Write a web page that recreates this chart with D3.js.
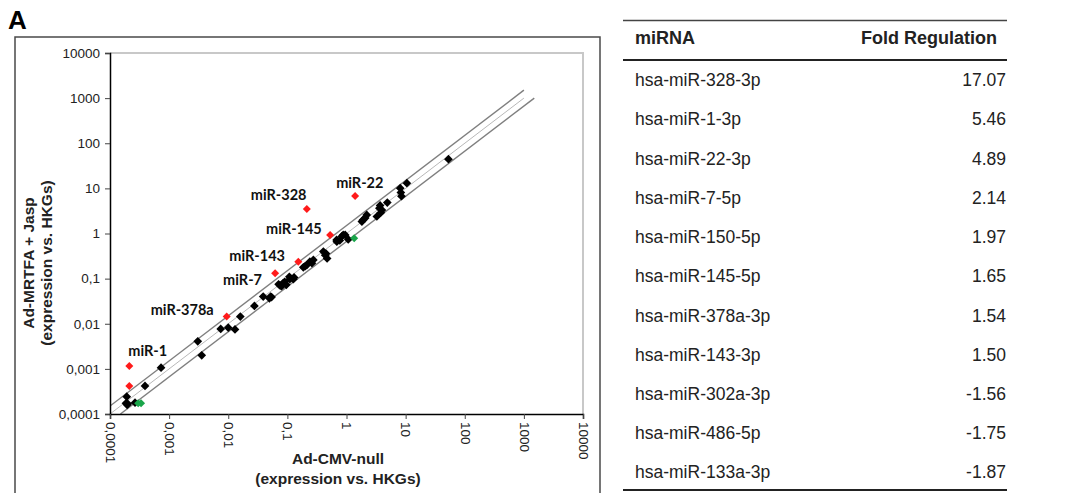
<!DOCTYPE html>
<html><head><meta charset="utf-8">
<script src="https://cdn.jsdelivr.net/npm/d3@7"></script>
<style>
html,body{margin:0;padding:0;background:#fff;}
svg{display:block;}
</style></head>
<body>
<svg id="chart" width="1076" height="493"></svg>
<script>
// ---- data ----
const tickValues = [1e-4, 1e-3, 1e-2, 1e-1, 1, 10, 100, 1000, 10000];
const tickLabels = ["0,0001", "0,001", "0,01", "0,1", "1", "10", "100", "1000", "10000"];

// black (unchanged) miRNAs: [Ad-CMV-null, Ad-MRTFA + Jasp]
const blackX = [1.92e-4,1.86e-4,2.0e-4,1.95e-4,2.65e-4,3.91e-4,7.3e-4,3.05e-3,3.56e-3,7.46e-3,0.010,0.013,0.016,0.0277,
  0.039,0.0497,0.052,0.054,0.0755,0.085,0.096,0.11,0.108,0.126,0.13,0.071,0.08,0.09,
  0.186,0.213,0.24,0.275,0.2,0.26,0.406,0.47,0.437,0.45,0.686,0.68,0.83,0.88,0.95,1.07,0.77,
  1.82,2.07,2.2,1.9,3.26,3.6,3.7,3.97,3.8,4.9,8.3,8.1,8.5,10.5,53];
const blackY = [2.42e-4,1.73e-4,1.68e-4,1.6e-4,1.78e-4,4.18e-4,1.06e-3,4.09e-3,2.0e-3,7.67e-3,8.2e-3,7.5e-3,0.0144,0.0248,
  0.040,0.0367,0.040,0.039,0.070,0.080,0.073,0.097,0.11,0.097,0.106,0.075,0.068,0.085,
  0.178,0.20,0.238,0.26,0.19,0.22,0.397,0.28,0.33,0.36,0.66,0.72,0.86,0.93,0.93,0.74,0.70,
  1.84,2.2,2.58,2.0,2.38,3.64,4.2,3.3,2.9,4.85,8.1,10.1,6.7,13,44.4];

// up-regulated (red)
const redNames = ["miR-1", "miR-150", "miR-378a", "miR-7", "miR-143", "miR-145", "miR-328", "miR-22"];
const redX = [2.12e-4, 2.12e-4, 9.4e-3, 0.062, 0.153, 0.528, 0.213, 1.4];
const redY = [1.16e-3, 4.2e-4, 0.0144, 0.132, 0.238, 0.93, 3.51, 6.82];

// down-regulated (green)
const greenX = [3.0e-4, 3.35e-4, 1.35];
const greenY = [1.73e-4, 1.73e-4, 0.787];

// annotation labels
const labelNames = ["miR-1", "miR-378a", "miR-7", "miR-143", "miR-145", "miR-328", "miR-22"];

// table
const tableMiRNA = ["hsa-miR-328-3p","hsa-miR-1-3p","hsa-miR-22-3p","hsa-miR-7-5p","hsa-miR-150-5p","hsa-miR-145-5p",
  "hsa-miR-378a-3p","hsa-miR-143-3p","hsa-miR-302a-3p","hsa-miR-486-5p","hsa-miR-133a-3p"];
const tableFold = ["17.07","5.46","4.89","2.14","1.97","1.65","1.54","1.50","-1.56","-1.75","-1.87"];

// ---- drawing ----
const svg = d3.select("#chart");
const L = 110, R = 583, T = 53, B = 414;
const x = d3.scaleLog().domain([1e-4, 1e4]).range([L, R]);
const y = d3.scaleLog().domain([1e-4, 1e4]).range([B, T]);

// panel letter
svg.append("text").attr("x", 8).attr("y", 29).text("A")
  .attr("font-family", "Liberation Sans, Arial, sans-serif").attr("font-weight", "bold").attr("font-size", 26);

// outer frame
svg.append("path").attr("d", `M15,493 V37 H600 V493`).attr("fill", "none")
  .attr("stroke", "#4a4a4a").attr("stroke-width", 1.5);

// plot area light border (top/right)
svg.append("path").attr("d", `M${L},${T} H${R} V${B}`).attr("fill", "none")
  .attr("stroke", "#c8c8c8").attr("stroke-width", 2);

// reference lines
svg.append("clipPath").attr("id", "pc").append("rect")
  .attr("x", L).attr("y", T).attr("width", R - L).attr("height", B - T);
const lines = svg.append("g").attr("clip-path", "url(#pc)");
const line = d3.line().x(d => x(d[0])).y(d => y(d[1]));
lines.append("path").attr("d", line([[1e-4, 1e-4], [1000, 1000]]))
  .attr("stroke", "#b8b8b8").attr("stroke-width", 1).attr("fill", "none");
lines.append("path").attr("d", line([[1e-4, 1.5e-4], [1000, 1500]]))
  .attr("stroke", "#7f7f7f").attr("stroke-width", 1.4).attr("fill", "none");
lines.append("path").attr("d", line([[1.5e-4, 1e-4], [1500, 1000]]))
  .attr("stroke", "#7f7f7f").attr("stroke-width", 1.4).attr("fill", "none");

// axes
const fmt = (d) => tickLabels[tickValues.indexOf(d)];
const yAxis = svg.append("g").attr("transform", `translate(${L},0)`)
  .call(d3.axisLeft(y).tickValues(tickValues).tickFormat(fmt).tickSize(5).tickPadding(5));
yAxis.select(".domain").attr("stroke", "#000").attr("stroke-width", 1.5);
yAxis.selectAll(".tick line").attr("stroke", "#444");
yAxis.selectAll("text").attr("font-family", "Liberation Sans, Arial, sans-serif").attr("font-size", 13.5).attr("fill", "#222");

const xAxis = svg.append("g").attr("transform", `translate(0,${B})`)
  .call(d3.axisBottom(x).tickValues(tickValues).tickFormat(fmt).tickSize(5));
xAxis.select(".domain").attr("stroke", "#000").attr("stroke-width", 1.5);
xAxis.selectAll(".tick line").attr("stroke", "#444");
xAxis.selectAll("text")
  .attr("font-family", "Liberation Sans, Arial, sans-serif").attr("font-size", 13.5).attr("fill", "#222")
  .attr("transform", "rotate(90)").attr("x", 8).attr("y", 0).attr("dy", "0.35em")
  .attr("text-anchor", "start");

// axis titles
const titleFont = "Liberation Sans, Arial, sans-serif";
const yt = svg.append("text").attr("transform", "translate(34,263) rotate(-90)")
  .attr("text-anchor", "middle").attr("font-family", titleFont).attr("font-weight", "bold").attr("font-size", 15.5).attr("fill", "#222");
yt.append("tspan").attr("x", 0).attr("dy", 0).text("Ad-MRTFA + Jasp");
yt.append("tspan").attr("x", 0).attr("dy", 18).text("(expression vs. HKGs)");
const xt = svg.append("text").attr("text-anchor", "middle").attr("font-family", titleFont)
  .attr("font-weight", "bold").attr("font-size", 15.5).attr("fill", "#222");
xt.append("tspan").attr("x", 338).attr("y", 464).text("Ad-CMV-null");
xt.append("tspan").attr("x", 338).attr("y", 484).text("(expression vs. HKGs)");

// points
function drawPts(xs, ys, color, size) {
  const s = d3.symbol().type(d3.symbolSquare).size(size);
  svg.append("g").selectAll("path").data(xs.map((v, i) => [v, ys[i]])).join("path")
    .attr("d", s)
    .attr("transform", d => `translate(${x(d[0])},${y(d[1])}) rotate(45)`)
    .attr("fill", color);
}
drawPts(blackX, blackY, "#000", 38);
drawPts(greenX, greenY, "#1aa54a", 32);
drawPts(redX, redY, "#ff1a1a", 32);

// annotations (positioned next to their points)
const labelDX = {"miR-1": -1, "miR-378a": -76, "miR-7": -52, "miR-143": -69, "miR-145": -64, "miR-328": -56, "miR-22": -19};
const labelDY = {"miR-1": -10, "miR-378a": -2, "miR-7": 12, "miR-143": -1, "miR-145": -1, "miR-328": -9, "miR-22": -8};
svg.append("g").selectAll("text").data(labelNames).join("text")
  .attr("x", d => x(redX[redNames.indexOf(d)]) + labelDX[d])
  .attr("y", d => y(redY[redNames.indexOf(d)]) + labelDY[d])
  .attr("font-family", "Lato, sans-serif").attr("font-weight", "bold").attr("font-size", 14.5).attr("fill", "#111")
  .text(d => d);

// table
const tL = 623, tR = 1007, tx = 635, tv = 1006;
const tg = svg.append("g").attr("font-family", "Liberation Sans, Arial, sans-serif").attr("fill", "#222");
tg.append("line").attr("x1", tL).attr("x2", tR).attr("y1", 20.5).attr("y2", 20.5).attr("stroke", "#444").attr("stroke-width", 1.5);
tg.append("line").attr("x1", tL).attr("x2", tR).attr("y1", 60).attr("y2", 60).attr("stroke", "#222").attr("stroke-width", 2.2);
tg.append("line").attr("x1", tL).attr("x2", tR).attr("y1", 490).attr("y2", 490).attr("stroke", "#222").attr("stroke-width", 2.2);
tg.append("text").attr("x", tx).attr("y", 44).attr("font-weight", "bold").attr("font-size", 18).text("miRNA");
tg.append("text").attr("x", 997).attr("y", 44).attr("text-anchor", "end").attr("font-weight", "bold").attr("font-size", 18).text("Fold Regulation");
const rowY = d3.scaleLinear().domain([0, tableMiRNA.length - 1]).range([80, 472.3]);
tg.selectAll("text.m").data(tableMiRNA).join("text").attr("class", "m")
  .attr("x", tx).attr("y", (d, i) => rowY(i)).attr("dy", "0.35em").attr("font-size", 17.5).text(d => d);
tg.selectAll("text.f").data(tableFold).join("text").attr("class", "f")
  .attr("x", tv).attr("y", (d, i) => rowY(i)).attr("dy", "0.35em").attr("text-anchor", "end").attr("font-size", 17.5).text(d => d);
</script>
</body></html>
